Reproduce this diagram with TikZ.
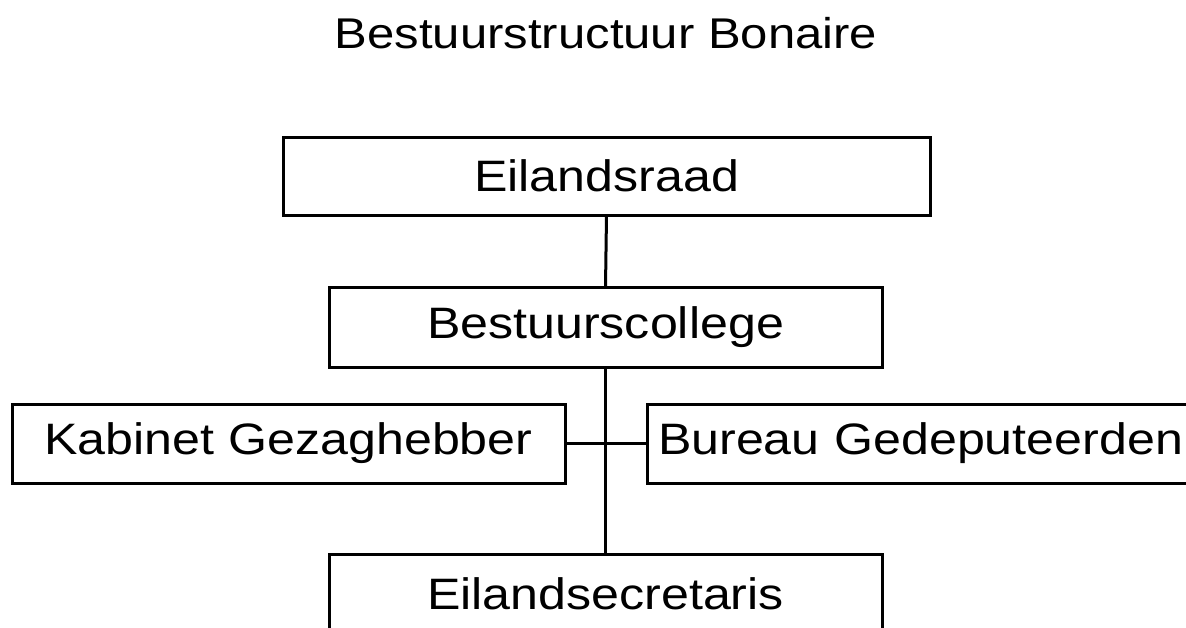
\documentclass[tikz,border=0pt]{standalone}
\usepackage{fontspec}
\setmainfont[FakeStretch=1.14]{Liberation Sans}
\begin{document}
\begin{tikzpicture}[x=1pt,y=-1pt,
  orgbox/.style={draw=black,line width=3pt,fill=white,rectangle,inner sep=0pt,outer sep=0pt,
    font=\fontsize{44}{52}\selectfont},
  link/.style={draw=black,line width=3pt}]
\useasboundingbox (0,0) rectangle (1186,627);
\clip (0,0) rectangle (1186,627);
\fill[white] (0,0) rectangle (1186,627);
\node[anchor=base,inner sep=0pt,font=\fontsize{43}{50}\selectfont] (title) at (606,48) {Bestuurstructuur Bonaire};
\node[orgbox,minimum width=647pt,minimum height=78pt] (raad) at (606.5,176) {Eilandsraad};
\node[orgbox,minimum width=553pt,minimum height=80pt] (college) at (605.5,327) {Bestuurscollege};
\node[orgbox,minimum width=553pt,minimum height=79pt] (kabinet) at (288.5,443.5) {Kabinet Gezaghebber};
\node[orgbox,minimum width=553pt,minimum height=79pt,text width=531pt,align=left] (bureau) at (923.5,443.5) {Bureau Gedeputeerden};
\node[orgbox,minimum width=553pt,minimum height=80pt] (secr) at (605.5,594) {Eilandsecretaris};
\draw[link] (raad.south) -- (college.north);
\draw[link] (college.south) -- (secr.north);
\draw[link] (kabinet.east) -- (bureau.west);
\end{tikzpicture}
\end{document}
